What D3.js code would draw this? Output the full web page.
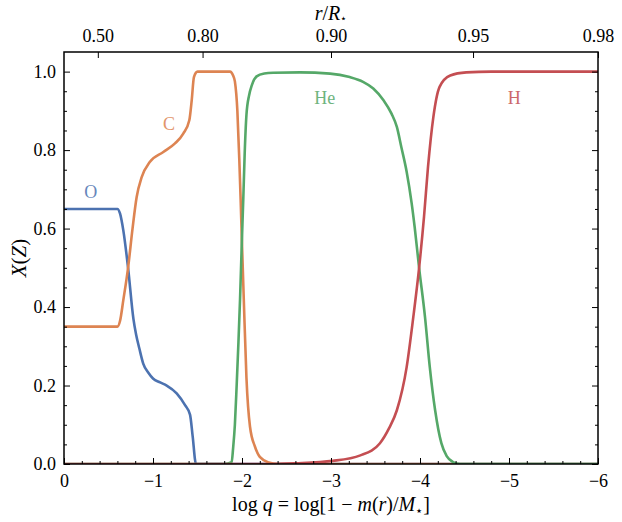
<!DOCTYPE html>
<html lang="en">
<head>
  <meta charset="UTF-8">
  <title>Composition profile</title>
  <script src="https://cdn.jsdelivr.net/npm/d3@7"></script>
  <style>
    body { margin: 0; background: #fff; }
    text { font-family: "Liberation Serif", "DejaVu Serif", serif; fill: #000; }
  </style>
</head>
<body>
  <svg width="622" height="522"></svg>
  <script>
    // chemical abundance profiles, points as [log q, X]
    var oxygen = [[0, 0.65], [-0.6, 0.65], [-0.63, 0.638], [-0.666, 0.596], [-0.72, 0.5], [-0.78, 0.37],
      [-0.81, 0.33], [-0.846, 0.295], [-0.89, 0.256], [-0.95, 0.232], [-1.0, 0.218], [-1.08, 0.208],
      [-1.154, 0.2], [-1.266, 0.18], [-1.36, 0.15], [-1.416, 0.126], [-1.446, 0.07], [-1.483, 0.0], [-6, 0]];
    var carbon = [[0, 0.35], [-0.6, 0.35], [-0.63, 0.365], [-0.666, 0.417], [-0.72, 0.5], [-0.77, 0.6],
      [-0.816, 0.68], [-0.873, 0.731], [-0.966, 0.77], [-1.116, 0.795], [-1.247, 0.817], [-1.34, 0.842],
      [-1.408, 0.876], [-1.435, 0.927], [-1.46, 0.986], [-1.5, 1.0], [-1.865, 1.0], [-1.9, 0.99],
      [-1.92, 0.975], [-1.948, 0.9], [-1.97, 0.774], [-1.985, 0.672], [-2.0, 0.56], [-2.02, 0.42],
      [-2.05, 0.22], [-2.09, 0.095], [-2.146, 0.044], [-2.2, 0.018], [-2.3, 0.004], [-2.4, 0], [-6, 0]];
    var helium = [[0, 0], [-1.8, 0], [-1.884, 0.005], [-1.9, 0.04], [-1.92, 0.1], [-1.94, 0.2],
      [-1.96, 0.31], [-1.978, 0.42], [-1.996, 0.55], [-2.015, 0.68], [-2.03, 0.79], [-2.05, 0.89],
      [-2.08, 0.94], [-2.11, 0.965], [-2.165, 0.988], [-2.25, 0.995], [-2.35, 0.997], [-2.65, 0.998],
      [-2.99, 0.995], [-3.21, 0.986], [-3.36, 0.974], [-3.475, 0.957], [-3.59, 0.927], [-3.68, 0.893],
      [-3.74, 0.859], [-3.79, 0.808], [-3.85, 0.745], [-3.906, 0.665], [-3.94, 0.604], [-3.99, 0.5],
      [-4.056, 0.375], [-4.11, 0.247], [-4.17, 0.137], [-4.24, 0.053], [-4.3, 0.02], [-4.37, 0.005],
      [-4.45, 0], [-6, 0]];
    var hydrogen = [[0, 0], [-2.3, 0], [-2.6, 0.002], [-3.02, 0.008], [-3.33, 0.022], [-3.55, 0.053],
      [-3.65, 0.09], [-3.74, 0.137], [-3.85, 0.247], [-3.925, 0.375], [-3.99, 0.5], [-4.045, 0.63],
      [-4.09, 0.757], [-4.15, 0.884], [-4.22, 0.961], [-4.34, 0.99], [-4.52, 0.998], [-4.8, 1.0], [-6, 1.0]];

    var seriesNames = ["O", "C", "He", "H"];
    var seriesData = [oxygen, carbon, helium, hydrogen];
    var seriesColors = ["#4c72b0", "#dd8452", "#55a868", "#c44e52"];
    // where each species name sits, in data coordinates
    var labelLogQ = [-0.3, -1.18, -2.93, -5.06];
    var labelX = [0.695, 0.866, 0.934, 0.934];

    var xTicks = [0, -1, -2, -3, -4, -5, -6];
    var yTicks = [0.0, 0.2, 0.4, 0.6, 0.8, 1.0];
    // top axis: r/R* marks and the log q they line up with
    var topTickLabels = ["0.50", "0.80", "0.90", "0.95", "0.98"];
    var topTickLogQ = [-0.38, -1.557, -3.0, -4.596, -6.0];

    var svg = d3.select("svg");
    var margin = {top: 52, right: 24, bottom: 58, left: 64};
    var width = 622 - margin.left - margin.right;
    var height = 522 - margin.top - margin.bottom;
    var g = svg.append("g").attr("transform", "translate(" + margin.left + "," + margin.top + ")");

    var x = d3.scaleLinear().domain([0, -6]).range([0, width]);
    var y = d3.scaleLinear().domain([0, 1.05]).range([height, 0]);

    var fmtMinus = function (d) { return d < 0 ? "\u2212" + Math.abs(d) : String(d); };

    // curves
    var line = d3.line()
      .x(function (d) { return x(d[0]); })
      .y(function (d) { return y(d[1]); })
      .curve(d3.curveMonotoneX);

    g.append("clipPath").attr("id", "clip")
      .append("rect").attr("width", width).attr("height", height);

    g.append("g").attr("clip-path", "url(#clip)")
      .selectAll("path")
      .data(seriesData)
      .enter()
      .append("path")
      .attr("d", line)
      .attr("fill", "none")
      .attr("stroke", function (d, i) { return seriesColors[i]; })
      .attr("stroke-width", 2.6)
      .attr("stroke-linejoin", "round");

    g.selectAll(".species")
      .data(seriesNames)
      .enter()
      .append("text")
      .attr("class", "species")
      .attr("x", function (d, i) { return x(labelLogQ[i]); })
      .attr("y", function (d, i) { return y(labelX[i]); })
      .attr("dy", "0.35em")
      .attr("text-anchor", "middle")
      .attr("font-size", 18)
      .style("fill", function (d, i) { return seriesColors[i]; })
      .style("opacity", 0.85)
      .text(function (d) { return d; });

    // axes, ticks pointing inwards on every side
    var xMinor = d3.range(0, -6.001, -0.2).filter(function (v) { return Math.abs(v - Math.round(v)) > 1e-6; });
    var yMinor = d3.range(0, 1.0001, 0.05).filter(function (v) { return Math.abs(v * 5 - Math.round(v * 5)) > 1e-6; });

    var axBottom = g.append("g").attr("transform", "translate(0," + height + ")")
      .call(d3.axisBottom(x).tickValues(xTicks).tickFormat(fmtMinus).tickSizeInner(-6).tickSizeOuter(0).tickPadding(10));
    axBottom.append("g").call(d3.axisBottom(x).tickValues(xMinor).tickFormat("").tickSizeInner(-3).tickSizeOuter(0));

    var axLeft = g.append("g")
      .call(d3.axisLeft(y).tickValues(yTicks).tickFormat(d3.format(".1f")).tickSizeInner(-6).tickSizeOuter(0).tickPadding(8));
    axLeft.append("g").call(d3.axisLeft(y).tickValues(yMinor).tickFormat("").tickSizeInner(-3).tickSizeOuter(0));

    var axRight = g.append("g").attr("transform", "translate(" + width + ",0)")
      .call(d3.axisRight(y).tickValues(yTicks).tickFormat("").tickSizeInner(-6).tickSizeOuter(0));
    axRight.append("g").call(d3.axisRight(y).tickValues(yMinor).tickFormat("").tickSizeInner(-3).tickSizeOuter(0));

    g.append("g")
      .call(d3.axisTop(x).tickValues(topTickLogQ).tickFormat(function (d, i) { return topTickLabels[i]; })
        .tickSizeInner(-6).tickSizeOuter(0).tickPadding(10));

    g.selectAll(".domain").remove();
    g.selectAll("g").attr("font-family", null);
    g.selectAll(".tick line").attr("stroke", "#000").attr("stroke-width", 1);
    g.selectAll(".tick text").attr("font-size", 18);

    g.append("rect")
      .attr("width", width).attr("height", height)
      .attr("fill", "none").attr("stroke", "#000").attr("stroke-width", 1.5);

    // axis titles
    var yTitle = svg.append("text")
      .attr("transform", "translate(26," + (margin.top + height / 2) + ") rotate(-90)")
      .attr("text-anchor", "middle")
      .attr("font-size", 21);
    yTitle.append("tspan").style("font-style", "italic").text("X");
    yTitle.append("tspan").text("(");
    yTitle.append("tspan").style("font-style", "italic").text("Z");
    yTitle.append("tspan").text(")");

    var xTitle = svg.append("text")
      .attr("x", margin.left + width / 2).attr("y", 511)
      .attr("text-anchor", "middle")
      .attr("font-size", 20);
    xTitle.append("tspan").text("log ");
    xTitle.append("tspan").style("font-style", "italic").text("q");
    xTitle.append("tspan").text(" = log[1 \u2212 ");
    xTitle.append("tspan").style("font-style", "italic").text("m");
    xTitle.append("tspan").text("(");
    xTitle.append("tspan").style("font-style", "italic").text("r");
    xTitle.append("tspan").text(")/");
    xTitle.append("tspan").style("font-style", "italic").text("M");
    xTitle.append("tspan").attr("font-size", 13).attr("dy", 4).text("\u22c6");
    xTitle.append("tspan").attr("dy", -4).text("]");

    var topTitle = svg.append("text")
      .attr("x", margin.left + width / 2).attr("y", 20)
      .attr("text-anchor", "middle")
      .attr("font-size", 20);
    topTitle.append("tspan").style("font-style", "italic").text("r");
    topTitle.append("tspan").text("/");
    topTitle.append("tspan").style("font-style", "italic").text("R");
    topTitle.append("tspan").attr("font-size", 11).attr("dy", 2).text("\u22c6");
  </script>
</body>
</html>
